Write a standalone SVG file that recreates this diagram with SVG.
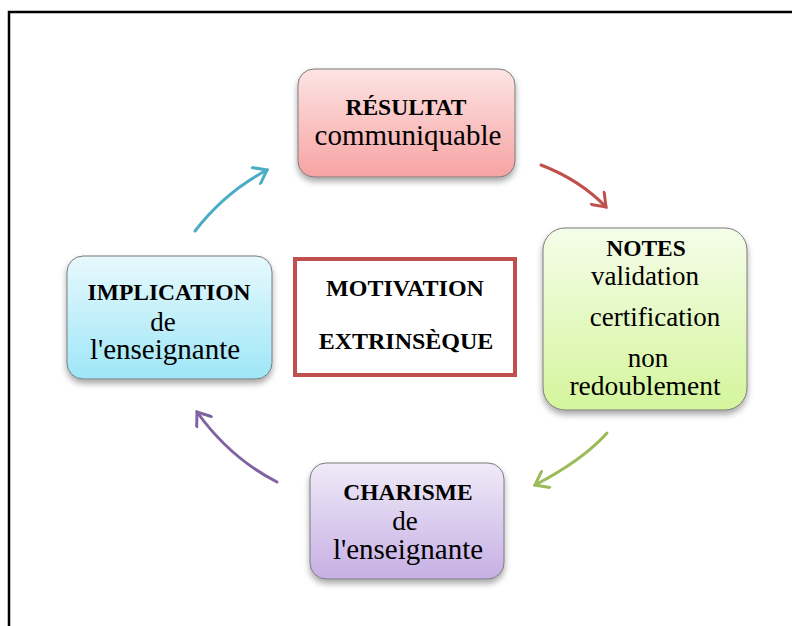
<svg xmlns="http://www.w3.org/2000/svg" width="792" height="626" viewBox="0 0 792 626">
<defs>
<linearGradient id="gPink" x1="0" y1="0" x2="0" y2="1"><stop offset="0" stop-color="#fde4e4"/><stop offset="1" stop-color="#f7a3a3"/></linearGradient>
<linearGradient id="gGreen" x1="0" y1="0" x2="0" y2="1"><stop offset="0" stop-color="#f5fde9"/><stop offset="1" stop-color="#d4f59c"/></linearGradient>
<linearGradient id="gBlue" x1="0" y1="0" x2="0" y2="1"><stop offset="0" stop-color="#e7f9fd"/><stop offset="1" stop-color="#9ee6f7"/></linearGradient>
<linearGradient id="gPurple" x1="0" y1="0" x2="0" y2="1"><stop offset="0" stop-color="#f0eaf8"/><stop offset="1" stop-color="#c6b0e4"/></linearGradient>
<filter id="shadow" x="-10%" y="-10%" width="120%" height="130%"><feDropShadow dx="0" dy="4" stdDeviation="3" flood-color="#000" flood-opacity="0.35"/></filter>
<marker id="mTeal" viewBox="0 0 20 20" refX="14" refY="10" markerWidth="20" markerHeight="20" markerUnits="userSpaceOnUse" orient="auto"><path d="M2,1 L14,10 L2,19" fill="none" stroke="#4bacc6" stroke-width="3" stroke-linecap="round"/></marker>
<marker id="mRed" viewBox="0 0 20 20" refX="14" refY="10" markerWidth="20" markerHeight="20" markerUnits="userSpaceOnUse" orient="auto"><path d="M2,1 L14,10 L2,19" fill="none" stroke="#c0504d" stroke-width="3" stroke-linecap="round"/></marker>
<marker id="mGreen" viewBox="0 0 20 20" refX="14" refY="10" markerWidth="20" markerHeight="20" markerUnits="userSpaceOnUse" orient="auto"><path d="M2,1 L14,10 L2,19" fill="none" stroke="#9bbb59" stroke-width="3" stroke-linecap="round"/></marker>
<marker id="mPurple" viewBox="0 0 20 20" refX="14" refY="10" markerWidth="20" markerHeight="20" markerUnits="userSpaceOnUse" orient="auto"><path d="M2,1 L14,10 L2,19" fill="none" stroke="#8064a2" stroke-width="3" stroke-linecap="round"/></marker>
<style>
.box{stroke:#7a7a7a;stroke-width:1;filter:url(#shadow);}
.t{font-family:"Liberation Serif","Times New Roman",serif;fill:#000;text-anchor:middle;}
.b{font-weight:bold;font-size:23.5px;}
.r{font-size:27px;}
.l{font-size:29px;}
.conn{fill:none;stroke-width:3;stroke-linecap:round;}
</style>
</defs>
<rect x="0" y="0" width="792" height="626" fill="#fff"/>
<path d="M9,626 L9,12 L792,12" fill="none" stroke="#000" stroke-width="2.5"/>

<g id="connectors">
<path class="conn" d="M195,231 Q225,192 267,170" stroke="#4bacc6" marker-end="url(#mTeal)"/>
<path class="conn" d="M541,165 Q580,180 606,207" stroke="#c0504d" marker-end="url(#mRed)"/>
<path class="conn" d="M607,433 Q583,460 535,485" stroke="#9bbb59" marker-end="url(#mGreen)"/>
<path class="conn" d="M277,482 Q230,458 197,412" stroke="#8064a2" marker-end="url(#mPurple)"/>
</g>

<g id="resultat">
<rect class="box" x="298" y="69" width="217" height="108" rx="16" fill="url(#gPink)"/>
<text class="t b" x="406" y="115">RÉSULTAT</text>
<text class="t l" x="408" y="145">communiquable</text>
</g>

<g id="notes">
<rect class="box" x="543" y="228" width="204" height="182" rx="22" fill="url(#gGreen)"/>
<text class="t b" x="646" y="256">NOTES</text>
<text class="t r" x="645" y="285">validation</text>
<text class="t r" x="655" y="326">certification</text>
<text class="t r" x="648" y="367">non</text>
<text class="t r" x="645" y="395" style="font-size:27.5px">redoublement</text>
</g>

<g id="implication">
<rect class="box" x="67" y="256" width="205" height="123" rx="16" fill="url(#gBlue)"/>
<text class="t b" x="169" y="300">IMPLICATION</text>
<text class="t r" x="163" y="331">de</text>
<text class="t l" x="165" y="359">l'enseignante</text>
</g>

<g id="motivation">
<rect x="295" y="259" width="220" height="116" fill="#fff" stroke="#c0504d" stroke-width="4"/>
<text class="t b" x="405" y="296" style="font-size:24px">MOTIVATION</text>
<text class="t b" x="406" y="349" style="font-size:24px">EXTRINSÈQUE</text>
</g>

<g id="charisme">
<rect class="box" x="310" y="463" width="194" height="116" rx="16" fill="url(#gPurple)"/>
<text class="t b" x="408" y="500">CHARISME</text>
<text class="t r" x="405" y="530">de</text>
<text class="t l" x="408" y="559">l'enseignante</text>
</g>
</svg>
